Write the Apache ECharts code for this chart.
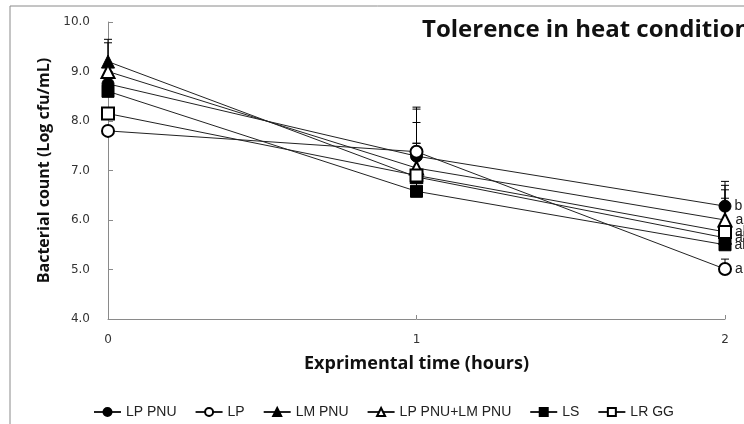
<!DOCTYPE html>
<html>
<head>
<meta charset="utf-8">
<script src="https://cdn.jsdelivr.net/npm/echarts@6/dist/echarts.min.js"></script>
<style>
  html, body { margin: 0; padding: 0; background: #fff; }
  #heat_tolerance_chart { width: 744px; height: 424px; }
</style>
</head>
<body>
<div id="heat_tolerance_chart"></div>
<script>
// 열 조건 내성 - 시간별 균수
var hours = [0, 1, 2];
var seriesNames = ['LP PNU', 'LP', 'LM PNU', 'LP PNU+LM PNU', 'LS', 'LR GG'];
var seriesSymbols = ['circle', 'emptyCircle', 'triangle', 'emptyTriangle', 'rect', 'emptyRect'];

var lpPnu = [8.75, 7.29, 6.28];
var lp = [7.8, 7.38, 5.01];
var lmPnu = [9.2, 6.87, 5.64];
var lpPnuLmPnu = [9.0, 7.05, 6.0];
var ls = [8.6, 6.58, 5.5];
var lrGg = [8.15, 6.9, 5.76];

// 오차 막대 (+ 방향만)
var lpPnuErr = [0.1, 0.95, 0.5];
var lpErr = [0.1, 0.9, 0.2];
var lmPnuErr = [0.45, 1.1, 0.8];
var lpPnuLmPnuErr = [0.58, 0.5, 0.7];
var lsErr = [0.1, 0.3, 0.3];
var lrGgErr = [0.1, 0.65, 0.85];

var endLetters = ['b', 'a', 'ab', 'ab', 'ab', 'ab'];

var yTicks = [4, 5, 6, 7, 8, 9, 10];

var allValues = [lpPnu, lp, lmPnu, lpPnuLmPnu, ls, lrGg];
var allErrors = [lpPnuErr, lpErr, lmPnuErr, lpPnuLmPnuErr, lsErr, lrGgErr];

var domHeat = document.getElementById('heat_tolerance_chart');
var myChartHeat = echarts.init(domHeat, null, { renderer: 'canvas' });

var errData = [];
allValues.forEach(function (vals, s) {
  vals.forEach(function (v, i) {
    errData.push([hours[i], v, v + allErrors[s][i]]);
  });
});

var seriesList = [{
  type: 'custom',
  name: 'err',
  z: 1,
  silent: true,
  renderItem: function (params, api) {
    var base = api.coord([api.value(0), api.value(1)]);
    var top = api.coord([api.value(0), api.value(2)]);
    var hw = 4;
    return {
      type: 'group',
      children: [
        { type: 'line', shape: { x1: base[0], y1: base[1], x2: top[0], y2: top[1] }, style: { stroke: '#000', lineWidth: 1 } },
        { type: 'line', shape: { x1: top[0] - hw, y1: top[1], x2: top[0] + hw, y2: top[1] }, style: { stroke: '#000', lineWidth: 1 } }
      ]
    };
  },
  encode: { x: 0, y: [1, 2] },
  data: errData
}];

allValues.forEach(function (vals, s) {
  seriesList.push({
    name: seriesNames[s],
    type: 'line',
    z: 3,
    symbol: seriesSymbols[s],
    symbolSize: seriesSymbols[s].indexOf('riangle') >= 0 ? 13 : 12,
    showAllSymbol: true,
    lineStyle: { color: '#222', width: 1 },
    itemStyle: { color: '#000', borderColor: '#000', borderWidth: 1 },
    emphasis: { disabled: true },
    label: {
      show: true,
      position: 'right',
      distance: 3,
      color: '#222',
      fontFamily: 'Liberation Sans',
      fontSize: 14,
      formatter: function (p) { return p.dataIndex === 2 ? endLetters[s] : ''; }
    },
    data: vals.map(function (v, i) { return [hours[i], v]; })
  });
});

var optionHeat = {
  animation: false,
  backgroundColor: '#fff',
  graphic: [{
    type: 'rect',
    shape: { x: 10, y: 6, width: 800, height: 500 },
    style: { fill: 'none', stroke: '#8a8a8a', lineWidth: 1 },
    silent: true,
    z: -10
  }],
  title: {
    text: 'Tolerence in heat condition',
    left: 417,
    top: 13,
    textStyle: { fontFamily: 'Open Sans', fontWeight: 'bold', fontSize: 24, color: '#111' }
  },
  legend: {
    data: seriesNames,
    left: 88,
    top: 400,
    itemWidth: 27,
    itemHeight: 10,
    itemGap: 18,
    textStyle: { fontFamily: 'Liberation Sans', fontSize: 14, color: '#222' }
  },
  grid: { left: 108, right: 19, top: 22, bottom: 105 },
  xAxis: {
    type: 'value',
    min: 0,
    max: 2,
    interval: 1,
    name: 'Exprimental time (hours)',
    nameLocation: 'center',
    nameGap: 36,
    nameTextStyle: { fontFamily: 'Open Sans', fontWeight: 'bold', fontSize: 18, color: '#111' },
    axisLine: { lineStyle: { color: '#8a8a8a' } },
    axisTick: { inside: true, length: 4, lineStyle: { color: '#8a8a8a' } },
    axisLabel: { color: '#333', fontSize: 12, margin: 15, fontFamily: 'DejaVu Sans' },
    splitLine: { show: false }
  },
  yAxis: {
    type: 'value',
    min: yTicks[0],
    max: yTicks[yTicks.length - 1],
    interval: 1,
    name: 'Bacterial count (Log cfu/mL)',
    nameLocation: 'center',
    nameGap: 54,
    nameTextStyle: { fontFamily: 'Open Sans', fontWeight: 'bold', fontSize: 16, color: '#111' },
    axisLine: { show: true, lineStyle: { color: '#8a8a8a' } },
    axisTick: { show: true, inside: true, length: 5, lineStyle: { color: '#8a8a8a' } },
    axisLabel: {
      color: '#333', fontSize: 12, margin: 18, fontFamily: 'DejaVu Sans',
      formatter: function (v) { return v.toFixed(1); }
    },
    splitLine: { show: false }
  },
  series: seriesList
};

if (optionHeat && typeof optionHeat === 'object') {
  myChartHeat.setOption(optionHeat);
}

window.addEventListener('resize', myChartHeat.resize);
</script>
</body>
</html>
